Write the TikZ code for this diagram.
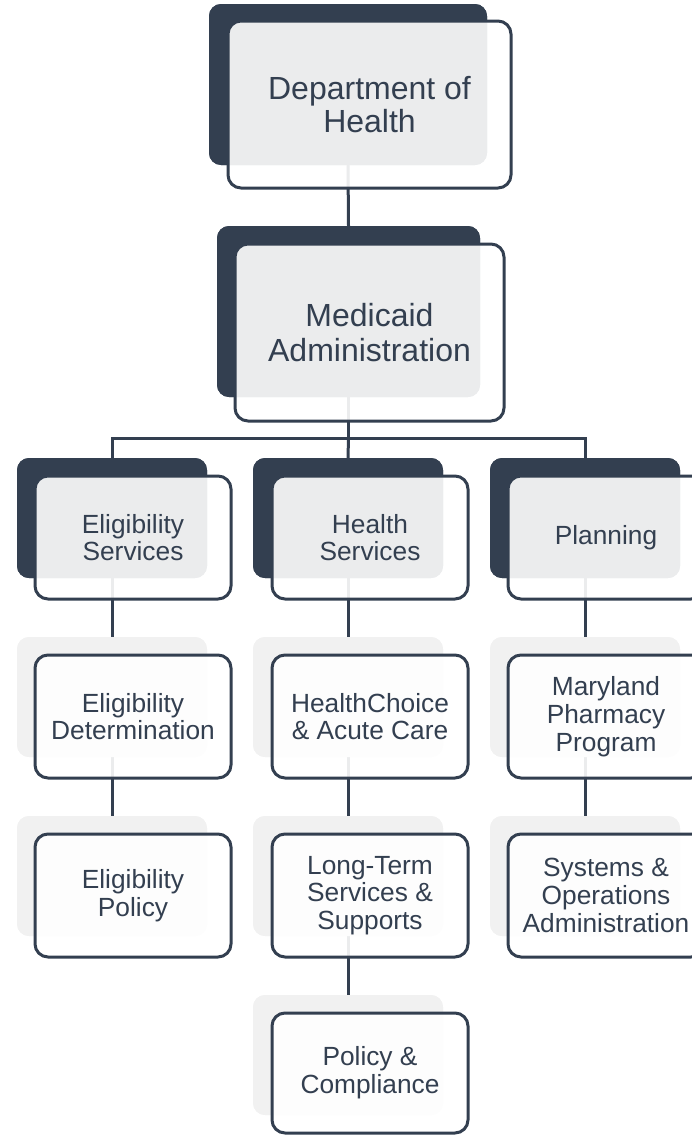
\documentclass[tikz,border=0pt]{standalone}
\usepackage{fontspec}
\setmainfont{Liberation Sans}
\definecolor{navy}{HTML}{333F50}
\definecolor{lightback}{HTML}{F1F1F1}
\begin{document}
\begin{tikzpicture}[x=1pt,y=-1pt,
  backdark/.style={fill=navy, draw=none, rounded corners=12pt, inner sep=0pt, outer sep=0pt,
    minimum width=190pt, minimum height=120pt, anchor=north west},
  backlight/.style={backdark, fill=lightback},
  frontbox/.style={draw=navy, line width=3pt, fill=white, fill opacity=0.9, text opacity=1,
    rounded corners=13pt, inner sep=0pt, outer sep=0pt, minimum width=196pt, minimum height=123pt,
    anchor=north west, align=center, text=navy, font=\fontsize{26.3}{27.8}\selectfont},
  link/.style={draw=navy, line width=3pt}]
\useasboundingbox (0,0) rectangle (692,1135);
\clip (0,0) rectangle (692,1135);
% back boxes
\node[backdark, minimum width=278pt, minimum height=161pt] (dh-b) at (209,4) {};
\node[backdark, minimum width=263pt, minimum height=171pt] (ma-b) at (217,226) {};
\node[backdark] (es-b) at (17,458) {};
\node[backdark] (hs-b) at (253,458) {};
\node[backdark] (pl-b) at (490,458) {};
\node[backlight] (ed-b) at (17,637) {};
\node[backlight] (hc-b) at (253,637) {};
\node[backlight] (mp-b) at (490,637) {};
\node[backlight] (ep-b) at (17,816) {};
\node[backlight] (lt-b) at (253,816) {};
\node[backlight] (so-b) at (490,816) {};
\node[backlight] (pc-b) at (253,995) {};
% connectors (behind the front boxes)
\coordinate (bus) at (348.5,438);
\draw[link] (dh-b.south) -- (ma-b.north);
\draw[link] (ma-b.south) -- (bus);
\draw[link] (bus) -| (es-b.north);
\draw[link] (bus) -| (pl-b.north);
\draw[link] (bus) -- (hs-b.north);
\draw[link] (es-b.south) -- (ed-b.north);
\draw[link] (ed-b.south) -- (ep-b.north);
\draw[link] (hs-b.south) -- (hc-b.north);
\draw[link] (hc-b.south) -- (lt-b.north);
\draw[link] (lt-b.south) -- (pc-b.north);
\draw[link] (pl-b.south) -- (mp-b.north);
\draw[link] (mp-b.south) -- (so-b.north);
% redraw back boxes over connector ends
\node[backdark, minimum width=278pt, minimum height=161pt] at (209,4) {};
\node[backdark, minimum width=263pt, minimum height=171pt] at (217,226) {};
\node[backdark] at (17,458) {};
\node[backdark] at (253,458) {};
\node[backdark] at (490,458) {};
\node[backlight] at (17,637) {};
\node[backlight] at (253,637) {};
\node[backlight] at (490,637) {};
\node[backlight] at (17,816) {};
\node[backlight] at (253,816) {};
\node[backlight] at (490,816) {};
\node[backlight] at (253,995) {};
% front boxes
\node[frontbox, minimum width=283pt, minimum height=167pt, font=\fontsize{32}{32.5}\selectfont] (dh) at (228,21) {Department of\\Health};
\node[frontbox, minimum width=269pt, minimum height=177pt, font=\fontsize{32}{35.5}\selectfont] (ma) at (235,244) {Medicaid\\Administration};
\node[frontbox] (es) at (35,476) {Eligibility\\Services};
\node[frontbox] (hs) at (272,476) {Health\\Services};
\node[frontbox] (pl) at (508,476) {Planning};
\node[frontbox] (ed) at (35,655) {Eligibility\\Determination};
\node[frontbox] (hc) at (272,655) {HealthChoice\\\& Acute Care};
\node[frontbox] (mp) at (508,655) {Maryland\\Pharmacy\\Program};
\node[frontbox] (ep) at (35,834) {Eligibility\\Policy};
\node[frontbox] (lt) at (272,834) {Long-Term\\Services \&\\Supports};
\node[frontbox] (so) at (508,834) {Systems \&\\Operations\\Administration};
\node[frontbox, minimum height=120pt] (pc) at (272,1013) {Policy \&\\Compliance};
\end{tikzpicture}
\end{document}
